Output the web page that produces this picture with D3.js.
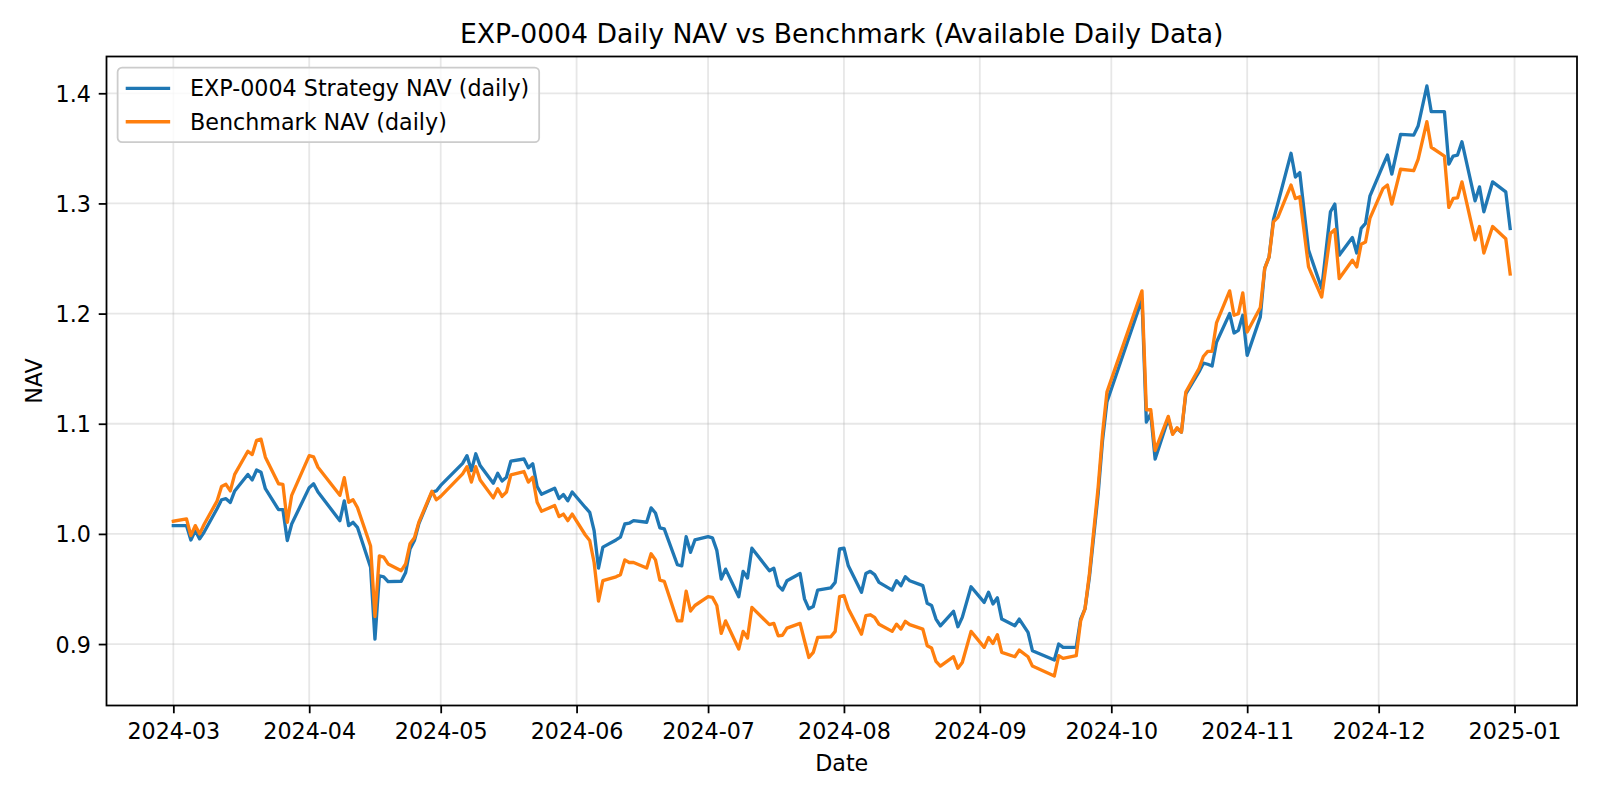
<!DOCTYPE html>
<html>
<head>
<meta charset="utf-8">
<script src="https://cdn.jsdelivr.net/npm/d3@7"></script>
<style>
  body { margin: 0; background: #fff; }
  text { font-family: "DejaVu Sans", sans-serif; fill: #000; }
</style>
</head>
<body>
<div id="vis1"></div>
<script>
// daily dates (trading days)
const dates = [
  "2024-03-01","2024-03-04","2024-03-05","2024-03-06","2024-03-07","2024-03-08","2024-03-11","2024-03-12","2024-03-13","2024-03-14",
  "2024-03-15","2024-03-18","2024-03-19","2024-03-20","2024-03-21","2024-03-22","2024-03-25","2024-03-26","2024-03-27","2024-03-28",
  "2024-04-01","2024-04-02","2024-04-03","2024-04-08","2024-04-09","2024-04-10","2024-04-11","2024-04-12","2024-04-15","2024-04-16",
  "2024-04-17","2024-04-18","2024-04-19","2024-04-22","2024-04-23","2024-04-24","2024-04-25","2024-04-26","2024-04-29","2024-04-30",
  "2024-05-01","2024-05-06","2024-05-07","2024-05-08","2024-05-09","2024-05-10","2024-05-13","2024-05-14","2024-05-15","2024-05-16",
  "2024-05-17","2024-05-20","2024-05-21","2024-05-22","2024-05-23","2024-05-24","2024-05-27","2024-05-28","2024-05-29","2024-05-30","2024-05-31",
  "2024-06-03","2024-06-04","2024-06-05","2024-06-06","2024-06-07","2024-06-10","2024-06-11","2024-06-12","2024-06-13","2024-06-14",
  "2024-06-17","2024-06-18","2024-06-19","2024-06-20","2024-06-21","2024-06-24","2024-06-25","2024-06-26","2024-06-27","2024-06-28",
  "2024-07-01","2024-07-02","2024-07-03","2024-07-04","2024-07-05","2024-07-08","2024-07-09","2024-07-10","2024-07-11","2024-07-15",
  "2024-07-16","2024-07-17","2024-07-18","2024-07-19","2024-07-22","2024-07-23","2024-07-24","2024-07-25","2024-07-26","2024-07-29","2024-07-30","2024-07-31",
  "2024-08-01","2024-08-02","2024-08-05","2024-08-06","2024-08-07","2024-08-08","2024-08-09","2024-08-12","2024-08-13","2024-08-14",
  "2024-08-15","2024-08-16","2024-08-19","2024-08-20","2024-08-21","2024-08-22","2024-08-23","2024-08-26","2024-08-27","2024-08-28","2024-08-30",
  "2024-09-02","2024-09-03","2024-09-04","2024-09-05","2024-09-06","2024-09-09","2024-09-10","2024-09-12","2024-09-13","2024-09-18",
  "2024-09-19","2024-09-20","2024-09-23","2024-09-24","2024-09-25","2024-09-26","2024-09-28","2024-09-29","2024-09-30",
  "2024-10-08","2024-10-09","2024-10-10","2024-10-11","2024-10-14","2024-10-15","2024-10-16","2024-10-17","2024-10-18",
  "2024-10-21","2024-10-22","2024-10-23","2024-10-24","2024-10-25","2024-10-28","2024-10-29","2024-10-30","2024-10-31",
  "2024-11-01","2024-11-04","2024-11-05","2024-11-06","2024-11-07","2024-11-08","2024-11-11","2024-11-12","2024-11-13","2024-11-15",
  "2024-11-18","2024-11-20","2024-11-21","2024-11-22","2024-11-25","2024-11-26","2024-11-27","2024-11-28","2024-11-29",
  "2024-12-02","2024-12-03","2024-12-04","2024-12-06","2024-12-09","2024-12-10","2024-12-12","2024-12-13","2024-12-16","2024-12-17",
  "2024-12-18","2024-12-19","2024-12-20","2024-12-23","2024-12-24","2024-12-25","2024-12-27","2024-12-30","2024-12-31"
];

const strategyNav = [
  1.0075,1.0075,0.9945,1.003,0.9955,1.0015,1.023,1.031,1.032,1.0285,
  1.039,1.054,1.049,1.058,1.056,1.041,1.022,1.022,0.994,1.009,
  1.042,1.0455,1.038,1.012,1.030,1.0075,1.0105,1.006,0.9697,0.9045,
  0.962,0.961,0.9566,0.957,0.965,0.9864,0.994,1.009,1.038,1.039,
  1.044,1.064,1.071,1.0575,1.0727,1.062,1.046,1.055,1.048,1.0515,
  1.066,1.068,1.060,1.0636,1.043,1.036,1.0415,1.032,1.0357,1.030,1.038,
  1.024,1.0196,1.003,0.969,0.988,0.9945,0.997,1.009,1.0097,1.012,
  1.0106,1.0236,1.019,1.0055,1.0045,0.972,0.971,0.9975,0.9833,0.9945,
  0.9975,0.9964,0.985,0.959,0.968,0.943,0.966,0.960,0.987,0.9666,
  0.9688,0.953,0.949,0.9575,0.964,0.941,0.932,0.934,0.949,0.951,0.956,0.9864,
  0.987,0.971,0.947,0.964,0.966,0.963,0.956,0.949,0.9575,0.953,
  0.961,0.9575,0.953,0.937,0.935,0.9227,0.9166,0.9297,0.9157,0.9242,0.952,
  0.9378,0.947,0.9364,0.942,0.9227,0.9166,0.9227,0.9106,0.894,0.8855,
  0.900,0.897,0.897,0.9227,0.932,0.9606,1.0364,1.0848,1.1197,
  1.213,1.1015,1.109,1.068,1.1045,1.091,1.0955,1.0924,1.127,
  1.147,1.155,1.154,1.1524,1.174,1.200,1.1824,1.1848,1.1985,
  1.162,1.197,1.241,1.2515,1.2855,1.300,1.3455,1.324,1.328,1.2576,
  1.2227,1.2924,1.2994,1.253,1.269,1.255,1.2773,1.2818,1.3066,
  1.3348,1.3439,1.3266,1.3627,1.362,1.3703,1.4066,1.3833,1.3833,1.3357,
  1.343,1.3439,1.356,1.3024,1.315,1.2924,1.3196,1.3105,1.2773
];

const benchmarkNav = [
  1.0115,1.0136,0.9985,1.0075,1.000,1.0085,1.030,1.043,1.045,1.039,
  1.054,1.075,1.072,1.085,1.086,1.0696,1.0455,1.045,1.0105,1.035,
  1.071,1.070,1.0605,1.035,1.051,1.0287,1.031,1.024,0.989,0.925,
  0.980,0.979,0.9727,0.9666,0.9727,0.991,0.9964,1.0105,1.0387,1.031,
  1.034,1.0545,1.061,1.047,1.061,1.049,1.0327,1.041,1.034,1.038,
  1.0536,1.0566,1.047,1.0515,1.0287,1.0206,1.0257,1.0157,1.018,1.012,1.018,
  0.999,0.994,0.974,0.939,0.9575,0.961,0.963,0.9764,0.974,0.974,
  0.969,0.982,0.9764,0.958,0.957,0.921,0.921,0.948,0.930,0.935,
  0.943,0.9424,0.935,0.9097,0.921,0.8955,0.9115,0.9055,0.9333,0.9176,
  0.9188,0.9075,0.908,0.9145,0.9188,0.903,0.8878,0.8924,0.906,0.9066,0.9115,0.943,
  0.944,0.932,0.909,0.9257,0.9266,0.9242,0.918,0.9115,0.918,0.9136,
  0.9206,0.9176,0.9136,0.8985,0.8964,0.8842,0.880,0.8885,0.878,0.8833,0.9115,
  0.897,0.906,0.9006,0.9085,0.8924,0.8885,0.8945,0.8885,0.880,0.871,
  0.8894,0.887,0.8894,0.921,0.932,0.9636,1.0424,1.091,1.1287,
  1.2206,1.1127,1.1127,1.0757,1.1067,1.0903,1.0964,1.0924,1.1287,
  1.15,1.161,1.1657,1.1657,1.1915,1.2206,1.1985,1.200,1.2188,
  1.1833,1.2055,1.241,1.2515,1.2833,1.2873,1.3167,1.3045,1.306,1.2424,
  1.215,1.2727,1.2764,1.2318,1.2485,1.2424,1.263,1.265,1.2864,
  1.3136,1.3167,1.2994,1.331,1.3297,1.34,1.3742,1.351,1.343,1.2964,
  1.3045,1.305,1.3196,1.267,1.279,1.255,1.279,1.2679,1.236
];

const seriesNames = ["EXP-0004 Strategy NAV (daily)", "Benchmark NAV (daily)"];
const seriesColors = ["#1f77b4", "#ff7f0e"];
const yTicks = [0.9, 1.0, 1.1, 1.2, 1.3, 1.4];
const xTickLabels = ["2024-03","2024-04","2024-05","2024-06","2024-07","2024-08","2024-09","2024-10","2024-11","2024-12","2025-01"];

// matplotlib-ish sizing (dpi 160)
const pt = 160 / 72;
const fontSize = 10 * pt;
const W = 1600, H = 800;
const margin = { top: 56.5, left: 106.5, right: 23, bottom: 94.5 };
const width = W - margin.left - margin.right;
const height = H - margin.top - margin.bottom;

const parse = d3.timeParse("%Y-%m-%d");
const data = dates.map((d, i) => ({ date: parse(d), strat: strategyNav[i], bench: benchmarkNav[i] }));

const svg1 = d3.select('#vis1')
  .append('svg')
  .attr('width', W)
  .attr('height', H)
  .style('background-color', '#fff');

// 5% auto margins like matplotlib
const xExt = d3.extent(data, d => d.date);
const xPad = (xExt[1] - xExt[0]) * 0.05;
const x = d3.scaleTime()
  .domain([new Date(+xExt[0] - xPad), new Date(+xExt[1] + xPad)])
  .range([0, width]);

const allVals = strategyNav.concat(benchmarkNav);
const yMin = d3.min(allVals), yMax = d3.max(allVals);
const yPad = (yMax - yMin) * 0.05;
const y = d3.scaleLinear()
  .domain([yMin - yPad, yMax + yPad])
  .range([height, 0]);

const g = svg1.append('g')
  .attr('transform', `translate(${margin.left},${margin.top})`);

const xTicks = xTickLabels.map(d3.timeParse("%Y-%m"));

// grid
g.append('g')
  .selectAll('line.vgrid')
  .data(xTicks)
  .join('line')
    .attr('x1', d => x(d)).attr('x2', d => x(d))
    .attr('y1', 0).attr('y2', height)
    .attr('stroke', '#b0b0b0').attr('stroke-opacity', 0.3)
    .attr('stroke-width', 0.8 * pt);

g.append('g')
  .selectAll('line.hgrid')
  .data(yTicks)
  .join('line')
    .attr('x1', 0).attr('x2', width)
    .attr('y1', d => y(d)).attr('y2', d => y(d))
    .attr('stroke', '#b0b0b0').attr('stroke-opacity', 0.3)
    .attr('stroke-width', 0.8 * pt);

// lines
const keys = ['strat', 'bench'];
keys.forEach((k, i) => {
  g.append('path')
    .datum(data)
    .attr('fill', 'none')
    .attr('stroke', seriesColors[i])
    .attr('stroke-width', 1.5 * pt)
    .attr('stroke-linejoin', 'round')
    .attr('stroke-linecap', 'square')
    .attr('d', d3.line().x(d => x(d.date)).y(d => y(d[k])));
});

// axes
const xAxis = g.append('g')
  .attr('transform', `translate(0,${height})`)
  .call(d3.axisBottom(x)
    .tickValues(xTicks)
    .tickFormat(d3.timeFormat("%Y-%m"))
    .tickSize(3.5 * pt)
    .tickPadding(3.5 * pt));
xAxis.select('.domain').remove();
xAxis.selectAll('line').attr('stroke', '#000').attr('stroke-width', 0.8 * pt);
xAxis.selectAll('text')
  .attr('dy', '0.82em')
  .style('font-size', fontSize + 'px')
  .style('font-family', '"DejaVu Sans", sans-serif');

const yAxis = g.append('g')
  .call(d3.axisLeft(y)
    .tickValues(yTicks)
    .tickFormat(d3.format('.1f'))
    .tickSize(3.5 * pt)
    .tickPadding(3.5 * pt));
yAxis.select('.domain').remove();
yAxis.selectAll('line').attr('stroke', '#000').attr('stroke-width', 0.8 * pt);
yAxis.selectAll('text')
  .attr('dy', '0.36em')
  .style('font-size', fontSize + 'px')
  .style('font-family', '"DejaVu Sans", sans-serif');

// spines
g.append('rect')
  .attr('width', width)
  .attr('height', height)
  .attr('fill', 'none')
  .attr('stroke', '#000')
  .attr('stroke-width', 0.8 * pt);

// axis labels
svg1.append('text')
  .attr('x', margin.left + width / 2)
  .attr('y', 771)
  .attr('text-anchor', 'middle')
  .style('font-size', fontSize + 'px')
  .text('Date');

svg1.append('text')
  .attr('transform', `translate(42,${margin.top + height / 2}) rotate(-90)`)
  .attr('text-anchor', 'middle')
  .style('font-size', fontSize + 'px')
  .text('NAV');

// title
svg1.append('text')
  .attr('x', margin.left + width / 2)
  .attr('y', margin.top - 6 * pt)
  .attr('text-anchor', 'middle')
  .style('font-size', (12 * pt) + 'px')
  .text('EXP-0004 Daily NAV vs Benchmark (Available Daily Data)');

// legend
const legend = g.append('g')
  .attr('transform', `translate(${0.5 * fontSize},${0.5 * fontSize})`);

const legendBox = legend.append('rect')
  .attr('rx', 0.2 * fontSize)
  .attr('fill', '#fff')
  .attr('fill-opacity', 0.8)
  .attr('stroke', '#cccccc')
  .attr('stroke-width', 0.8 * pt);

const rowH = 33.4;
const items = legend.selectAll('g.item')
  .data(seriesNames)
  .join('g')
    .attr('transform', (d, i) => `translate(0,${20.7 + i * rowH})`);

items.append('line')
  .attr('x1', 8.1).attr('x2', 8.1 + 2 * fontSize)
  .attr('y1', 0).attr('y2', 0)
  .attr('stroke', (d, i) => seriesColors[i])
  .attr('stroke-width', 1.5 * pt);

const labels = items.append('text')
  .attr('x', 72.4)
  .attr('dy', '0.36em')
  .style('font-size', fontSize + 'px')
  .text(d => d);

let maxW = 0;
labels.each(function() { maxW = Math.max(maxW, this.getComputedTextLength()); });
legendBox
  .attr('width', 72.4 + maxW + 0.4 * fontSize + 1)
  .attr('height', 74.6);
</script>
</body>
</html>
